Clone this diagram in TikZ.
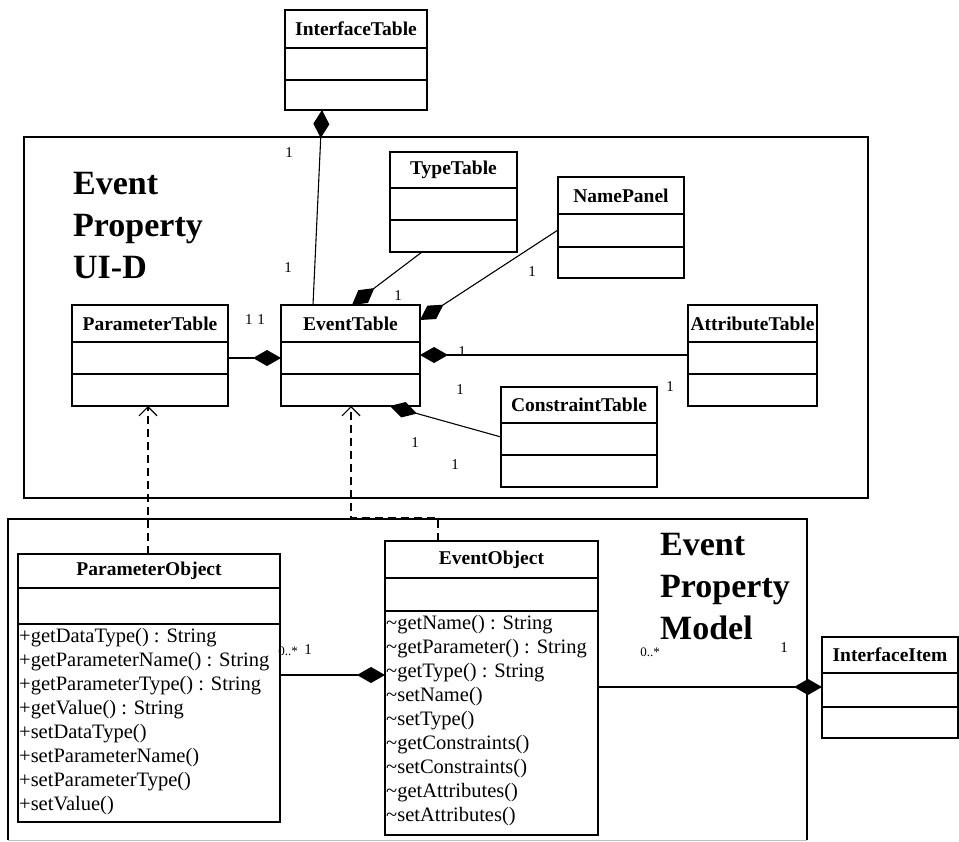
\documentclass[tikz,border=0pt]{standalone}
\usepackage{fontspec}
\setmainfont{Liberation Serif}
\usetikzlibrary{arrows.meta}

\tikzset{
  classbox/.style={draw, line width=1.2pt, fill=white, inner sep=0pt, outer sep=0pt},
  classname/.style={font=\bfseries\fontsize{19.5}{23}\selectfont, inner sep=0pt},
  method/.style={font=\fontsize{20.5}{24}\selectfont, inner sep=0pt, anchor=base west},
  mult/.style={font=\fontsize{15}{18}\selectfont, inner sep=0pt},
  multsmall/.style={font=\fontsize{13}{15}\selectfont, inner sep=0pt},
  bigtitle/.style={font=\bfseries\fontsize{34}{42}\selectfont, inner sep=0pt, anchor=base west},
  frame/.style={inner sep=0pt, outer sep=0pt, anchor=north west},
  framepath/.style={line width=1.4pt},
  comp/.style={line width=1.1pt, -{Diamond[length=28pt,width=16pt]}},
  dep/.style={line width=1.2pt, dash pattern=on 8pt off 5pt, -{Straight Barb[length=9pt,width=18pt]}},
}

% name, left, top, right, bottom, first divider, second divider, title
\newcommand{\umlclass}[8]{%
  \node[classbox, anchor=north west, minimum width=#4-#2, minimum height=#5-#3] (#1) at (#2,#3) {};
  \draw[line width=1.2pt] (#2,#6) -- (#4,#6) (#2,#7) -- (#4,#7);
  \node[classname] (#1-name) at ({(#2+#4)/2},{(#3+#6)/2}) {#8};
}

\begin{document}
\begin{tikzpicture}[x=1pt, y=-1pt]
\useasboundingbox (0,0) rectangle (959,842);

% the two packages
\node[frame, draw, line width=1.4pt, minimum width=844, minimum height=361] (uid) at (24,137) {};
\node[frame, minimum width=799, minimum height=321] (model) at (8,519) {};
\draw[framepath] (model.south west) -- (model.north west) -- (model.north east) -- (model.south east);
\draw[gray!50, line width=1pt] (model.south west) -- (model.south east);

\foreach \w [count=\i] in {Event,Property,UI-D}
  \node[bigtitle] (uidtitle\i) at (73,{153+42*\i}) {\w};
\foreach \w [count=\i] in {Event,Property,Model}
  \node[bigtitle] (modeltitle\i) at (660,{513+42*\i}) {\w};

% classes
\umlclass{itab}{285}{10}{427}{110}{48}{80}{InterfaceTable}
\umlclass{ttab}{390}{152}{517}{252}{188}{220}{TypeTable}
\umlclass{npan}{558}{177}{684}{278}{214}{247}{NamePanel}
\umlclass{ptab}{72}{305}{228}{406}{342}{374}{ParameterTable}
\umlclass{etab}{281}{305}{420}{406}{342}{374}{EventTable}
\umlclass{atab}{688}{305}{817}{406}{342}{374}{AttributeTable}
\umlclass{ctab}{501}{387}{657}{487}{423}{455}{ConstraintTable}
\umlclass{pobj}{18}{554}{280}{822}{588}{624}{ParameterObject}
\umlclass{eobj}{385}{541}{598}{835}{578}{611}{EventObject}
\umlclass{iitem}{822}{637}{958}{738}{673}{707}{InterfaceItem}

\foreach \m [count=\i] in {+getDataType() : String, +getParameterName() : String,
    +getParameterType() : String, +getValue() : String, +setDataType(),
    +setParameterName(), +setParameterType(), +setValue()}
  \node[method] (pm\i) at (19,{642+24*(\i-1)}) {\m};
\foreach \m [count=\i] in {getName() : String, getParameter() : String, getType() : String,
    setName(), setType(), getConstraints(), setConstraints(), getAttributes(), setAttributes()}
  \node[method] (em\i) at (386,{629+24*(\i-1)}) {\textasciitilde\m};

% compositions
\draw[comp] ([xshift=32]etab.north west) -- ([xshift=37]itab.south west);
\draw[comp] ([xshift=32]ttab.south west) -- ([xshift=71]etab.north west);
\draw[comp] ([yshift=-53]npan.north west) -- ([yshift=-15]etab.north east);
\draw[comp] ([yshift=-53]ptab.north east) -- ([yshift=-53]etab.north west);
\draw[comp] ([yshift=-50]atab.north west) -- ([yshift=-50]etab.north east);
\draw[comp] ([yshift=-50]ctab.north west) -- ([xshift=-30]etab.south east);
\draw[comp] ([yshift=-121]pobj.north east) -- ([yshift=-134]eobj.north west);
\draw[comp] ([yshift=-146]eobj.north east) -- ([yshift=-50]iitem.north west);

% dependencies
\draw[dep] ([xshift=130]pobj.north west) -- ([xshift=76]ptab.south west);
\coordinate (kink) at (351,518);
\draw[dep] ([xshift=53]eobj.north west) |- (kink) -- ([xshift=70]etab.south west);

% multiplicities
\node[mult] (m1) at (289,153) {1};
\node[mult] (m2) at (288,268) {1};
\node[mult] (m3) at (398,296) {1};
\node[mult] (m4) at (532,272) {1};
\node[mult] (m5) at (255,320) {1\,\,1};
\node[mult] (m6) at (462,352) {1};
\node[mult] (m7) at (460,390) {1};
\node[mult] (m8) at (670,387) {1};
\node[mult] (m9) at (415,443) {1};
\node[mult] (m10) at (455,465) {1};
\node[multsmall] (m11) at (288,651) {0..*};
\node[mult] (m12) at (308,650) {1};
\node[multsmall] (m13) at (650,652) {0..*};
\node[mult] (m14) at (784,648) {1};
\end{tikzpicture}
\end{document}
